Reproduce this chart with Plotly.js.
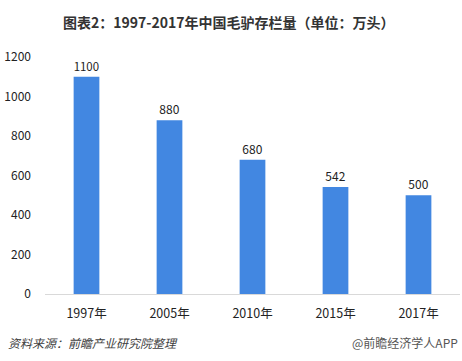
<!DOCTYPE html>
<html><head><meta charset="utf-8">
<script src="https://cdn.plot.ly/plotly-3.0.1.min.js"></script>
<style>body{margin:0;background:#fff}#c{width:462px;height:361px}</style>
</head><body><div id="c"></div>
<script>
const categories = ["1997年","2005年","2010年","2015年","2017年"];
const values = [1100, 880, 680, 542, 500];
const yTicks = [0, 200, 400, 600, 800, 1000, 1200];
const titleText = "图表2：1997-2017年中国毛驴存栏量（单位：万头）";
const sourceText = "资料来源：前瞻产业研究院整理";
const markText = "@前瞻经济学人APP";

const F = "'Noto Sans CJK SC', 'Noto Sans', sans-serif";
Plotly.newPlot("c", [{
  type: "bar", x: categories, y: values,
  marker: {color: "#4287E1"},
  text: values.map(String), textposition: "outside", cliponaxis: false,
  textfont: {family: F, size: 12, color: "#222"},
  width: 0.31, hoverinfo: "none"
}], {
  width: 462, height: 361,
  margin: {l: 45, r: 2, t: 57, b: 67},
  paper_bgcolor: "#fff", plot_bgcolor: "#fff",
  showlegend: false,
  font: {family: F, size: 12, color: "#222"},
  title: {text: "<b>" + titleText + "</b>", x: 0.495, xanchor: "center", y: 0.936, yanchor: "middle",
          font: {family: F, size: 14, color: "#333"}},
  xaxis: {showline: true, linecolor: "#d9d9d9", linewidth: 1, ticks: "", showgrid: false,
          ticklabelstandoff: 8, tickfont: {family: F, size: 12.5, color: "#222"}},
  yaxis: {range: [0, 1200], tickvals: yTicks, showgrid: false, zeroline: false, showline: false,
          ticklabelstandoff: 13, tickfont: {family: F, size: 12, color: "#222"}},
  annotations: [
    {text: "<i>" + sourceText + "</i>", xref: "paper", yref: "paper", x: -0.09, y: -0.205, xanchor: "left", yanchor: "middle",
     showarrow: false, font: {family: F, size: 12, color: "#404040"}, xshift: -2},
    {text: markText, xref: "paper", yref: "paper", x: 1, y: -0.205, xanchor: "right", yanchor: "middle",
     showarrow: false, font: {family: F, size: 12, color: "#555"}}
  ]
}, {staticPlot: true});
</script></body></html>
